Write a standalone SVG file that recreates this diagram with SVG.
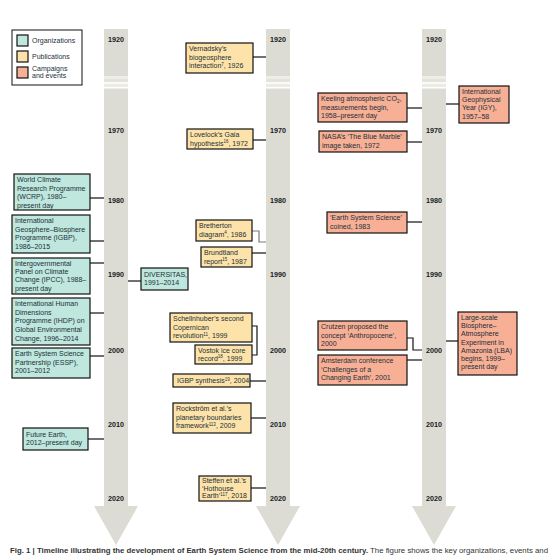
<svg xmlns="http://www.w3.org/2000/svg" width="559" height="555" viewBox="0 0 559 555">
<defs>
<style>
.bar{fill:#dcdcd4}
.org{fill:#bfe7dd;stroke:#111;stroke-width:1.2}
.pub{fill:#fde3a9;stroke:#111;stroke-width:1.2}
.cam{fill:#f7af95;stroke:#111;stroke-width:1.2}
.t{font-family:"Liberation Sans",Arial,sans-serif;font-size:7px;fill:#22303a}
.yr{font-family:"Liberation Sans",Arial,sans-serif;font-size:7.2px;font-weight:bold;fill:#1a1a1a;text-anchor:middle}
.c{fill:none;stroke:#111;stroke-width:1.2}
.cg{fill:none;stroke:#7a7a7a;stroke-width:1.2}
.cap{font-family:"Liberation Sans",Arial,sans-serif;font-size:7px;fill:#333}
.sup{font-size:4.5px}
</style>
</defs>
<rect width="559" height="555" fill="#fff"/>

<g id="timelines">
<g id="bar-left">
<polygon class="bar" points="104,29 128,29 128,506 138,506 116,545 94,506 104,506"/>
<rect x="104" y="76" width="24" height="3" fill="#eeeee9"/>
<rect x="104" y="79" width="24" height="3" fill="#e3e3dc"/>
<rect x="104" y="82" width="24" height="2.5" fill="#fafaf7"/>
<rect x="104" y="84.5" width="24" height="2.5" fill="#ececE6"/>
<rect x="104" y="87" width="24" height="1.5" fill="#fff"/>
</g>
<g id="bar-mid">
<polygon class="bar" points="266,29 290,29 290,506 300,506 278,545 256,506 266,506"/>
<rect x="266" y="76" width="24" height="3" fill="#eeeee9"/>
<rect x="266" y="79" width="24" height="3" fill="#e3e3dc"/>
<rect x="266" y="82" width="24" height="2.5" fill="#fafaf7"/>
<rect x="266" y="84.5" width="24" height="2.5" fill="#ececE6"/>
<rect x="266" y="87" width="24" height="1.5" fill="#fff"/>
</g>
<g id="bar-right">
<polygon class="bar" points="422,29 446,29 446,506 456,506 434,545 412,506 422,506"/>
<rect x="422" y="76" width="24" height="3" fill="#eeeee9"/>
<rect x="422" y="79" width="24" height="3" fill="#e3e3dc"/>
<rect x="422" y="82" width="24" height="2.5" fill="#fafaf7"/>
<rect x="422" y="84.5" width="24" height="2.5" fill="#ececE6"/>
<rect x="422" y="87" width="24" height="1.5" fill="#fff"/>
</g>
<g id="years">
<text class="yr" x="116" y="42">1920</text><text class="yr" x="278" y="42">1920</text><text class="yr" x="434" y="42">1920</text>
<text class="yr" x="116" y="133">1970</text><text class="yr" x="278" y="133">1970</text><text class="yr" x="434" y="133">1970</text>
<text class="yr" x="116" y="203">1980</text><text class="yr" x="278" y="203">1980</text><text class="yr" x="434" y="203">1980</text>
<text class="yr" x="116" y="277">1990</text><text class="yr" x="278" y="277">1990</text><text class="yr" x="434" y="277">1990</text>
<text class="yr" x="116" y="353">2000</text><text class="yr" x="278" y="353">2000</text><text class="yr" x="434" y="353">2000</text>
<text class="yr" x="116" y="427">2010</text><text class="yr" x="278" y="427">2010</text><text class="yr" x="434" y="427">2010</text>
<text class="yr" x="116" y="501">2020</text><text class="yr" x="278" y="501">2020</text><text class="yr" x="434" y="501">2020</text>
</g>
</g>

<g id="legend">
<rect x="12" y="30" width="70" height="55" fill="#fff" stroke="#111" stroke-width="1"/>
<rect x="17" y="35" width="11" height="11" class="org"/>
<rect x="17" y="51" width="11" height="11" class="pub"/>
<rect x="17" y="67" width="11" height="11" class="cam"/>
<text class="t" x="32" y="43">Organizations</text>
<text class="t" x="32" y="59">Publications</text>
<text class="t" x="32" y="71">Campaigns</text>
<text class="t" x="32" y="78">and events</text>
</g>

<g id="connectors">
<line class="c" x1="90" y1="198" x2="104" y2="198"/>
<line class="c" x1="90" y1="241" x2="104" y2="241"/>
<line class="c" x1="90" y1="263" x2="104" y2="263"/>
<line class="c" x1="128" y1="281" x2="141" y2="281"/>
<line class="c" x1="90" y1="313" x2="104" y2="313"/>
<line class="c" x1="90" y1="356" x2="104" y2="356"/>
<line class="c" x1="88" y1="439" x2="104" y2="439"/>
<line class="c" x1="253" y1="57" x2="266" y2="57"/>
<line class="c" x1="253" y1="140" x2="266" y2="140"/>
<polyline class="cg" points="252,231 259,231 259,242 266,242"/>
<line class="c" x1="252" y1="253" x2="266" y2="253"/>
<polyline class="c" points="252,326 257,326 257,355 252,355"/>
<line class="c" x1="250" y1="381" x2="266" y2="381"/>
<line class="c" x1="251" y1="418" x2="266" y2="418"/>
<line class="c" x1="251" y1="488" x2="266" y2="488"/>
<line class="c" x1="407" y1="108" x2="422" y2="108"/>
<line class="c" x1="446" y1="104" x2="459" y2="104"/>
<line class="c" x1="407" y1="142" x2="422" y2="142"/>
<line class="c" x1="407" y1="222" x2="422" y2="222"/>
<polyline class="c" points="407,338 413,338 413,350 422,350"/>
<line class="c" x1="407" y1="360" x2="422" y2="360"/>
<line class="c" x1="446" y1="341" x2="458" y2="341"/>
</g>

<g id="wcrp">
<rect class="org" x="14" y="174" width="76" height="36"/>
<text class="t" x="17" y="182"><tspan x="17">World Climate</tspan><tspan x="17" dy="8.5">Research Programme</tspan><tspan x="17" dy="8.5">(WCRP), 1980–</tspan><tspan x="17" dy="8.5">present day</tspan></text>
</g>
<g id="igbp">
<rect class="org" x="12" y="215" width="78" height="38"/>
<text class="t" x="15" y="223"><tspan x="15">International</tspan><tspan x="15" dy="8.6">Geosphere–Biosphere</tspan><tspan x="15" dy="8.6">Programme (IGBP),</tspan><tspan x="15" dy="8.6">1986–2015</tspan></text>
</g>
<g id="ipcc">
<rect class="org" x="12" y="258" width="78" height="36"/>
<text class="t" x="15" y="265.5"><tspan x="15">Intergovernmental</tspan><tspan x="15" dy="8.4">Panel on Climate</tspan><tspan x="15" dy="8.4">Change (IPCC), 1988–</tspan><tspan x="15" dy="8.4">present day</tspan></text>
</g>
<g id="diversitas">
<rect class="org" x="141" y="268" width="47" height="22"/>
<text class="t" x="144" y="276.5"><tspan x="144">DIVERSITAS,</tspan><tspan x="144" dy="8.5">1991–2014</tspan></text>
</g>
<g id="ihdp">
<rect class="org" x="12" y="298" width="78" height="47"/>
<text class="t" x="15" y="306"><tspan x="15">International Human</tspan><tspan x="15" dy="8.7">Dimensions</tspan><tspan x="15" dy="8.7">Programme (IHDP) on</tspan><tspan x="15" dy="8.7">Global Environmental</tspan><tspan x="15" dy="8.7">Change, 1996–2014</tspan></text>
</g>
<g id="essp">
<rect class="org" x="12" y="348" width="78" height="30"/>
<text class="t" x="15" y="356"><tspan x="15">Earth System Science</tspan><tspan x="15" dy="8.5">Partnership (ESSP),</tspan><tspan x="15" dy="8.5">2001–2012</tspan></text>
</g>
<g id="future-earth">
<rect class="org" x="23" y="428" width="65" height="22"/>
<text class="t" x="26" y="436.5"><tspan x="26">Future Earth,</tspan><tspan x="26" dy="8.5">2012–present day</tspan></text>
</g>

<g id="vernadsky">
<rect class="pub" x="186" y="43" width="67" height="30"/>
<text class="t" x="189" y="51"><tspan x="189">Vernadsky’s</tspan><tspan x="189" dy="8.5">biogeosphere</tspan><tspan x="189" dy="8.5">interaction</tspan><tspan class="sup" dy="-2.5">7</tspan><tspan dy="2.5">, 1926</tspan></text>
</g>
<g id="lovelock">
<rect class="pub" x="187" y="129" width="66" height="20"/>
<text class="t" x="190" y="137"><tspan x="190">Lovelock’s Gaia</tspan><tspan x="190" dy="8.5">hypothesis</tspan><tspan class="sup" dy="-2.5">16</tspan><tspan dy="2.5">, 1972</tspan></text>
</g>
<g id="bretherton">
<rect class="pub" x="196" y="220" width="56" height="21"/>
<text class="t" x="199" y="228"><tspan x="199">Bretherton</tspan><tspan x="199" dy="8.5">diagram</tspan><tspan class="sup" dy="-2.5">4</tspan><tspan dy="2.5">, 1986</tspan></text>
</g>
<g id="brundtland">
<rect class="pub" x="201" y="247" width="51" height="20"/>
<text class="t" x="204" y="255"><tspan x="204">Brundtland</tspan><tspan x="204" dy="8.5">report</tspan><tspan class="sup" dy="-2.5">15</tspan><tspan dy="2.5">, 1987</tspan></text>
</g>
<g id="schellnhuber">
<rect class="pub" x="170" y="313" width="82" height="29"/>
<text class="t" x="173" y="321"><tspan x="173">Schellnhuber’s second</tspan><tspan x="173" dy="8.5">Copernican</tspan><tspan x="173" dy="8.5">revolution</tspan><tspan class="sup" dy="-2.5">11</tspan><tspan dy="2.5">, 1999</tspan></text>
</g>
<g id="vostok">
<rect class="pub" x="195" y="345" width="57" height="19"/>
<text class="t" x="198" y="352.5"><tspan x="198">Vostok ice core</tspan><tspan x="198" dy="8.3">record</tspan><tspan class="sup" dy="-2.5">18</tspan><tspan dy="2.5">, 1999</tspan></text>
</g>
<g id="igbp-synthesis">
<rect class="pub" x="173" y="374" width="77" height="13"/>
<text class="t" x="177" y="383"><tspan>IGBP synthesis</tspan><tspan class="sup" dy="-2.5">19</tspan><tspan dy="2.5">, 2004</tspan></text>
</g>
<g id="rockstrom">
<rect class="pub" x="173" y="403" width="78" height="30"/>
<text class="t" x="176" y="411"><tspan x="176">Rockström et al.’s</tspan><tspan x="176" dy="8.5">planetary boundaries</tspan><tspan x="176" dy="8.5">framework</tspan><tspan class="sup" dy="-2.5">113</tspan><tspan dy="2.5">, 2009</tspan></text>
</g>
<g id="steffen">
<rect class="pub" x="199" y="476" width="52" height="25"/>
<text class="t" x="202" y="483"><tspan x="202">Steffen et al.’s</tspan><tspan x="202" dy="7.6">‘Hothouse</tspan><tspan x="202" dy="7.6">Earth’</tspan><tspan class="sup" dy="-2.5">117</tspan><tspan dy="2.5">, 2018</tspan></text>
</g>

<g id="keeling">
<rect class="cam" x="318" y="93" width="89" height="29"/>
<text class="t" x="321" y="101"><tspan x="321">Keeling atmospheric CO</tspan><tspan class="sup" dy="1.5">2</tspan><tspan dy="-1.5">,</tspan><tspan x="321" dy="8.5">measurements begin,</tspan><tspan x="321" dy="8.5">1958–present day</tspan></text>
</g>
<g id="igy">
<rect class="cam" x="459" y="86" width="50" height="37"/>
<text class="t" x="462" y="94"><tspan x="462">International</tspan><tspan x="462" dy="8.2">Geophysical</tspan><tspan x="462" dy="8.2">Year (IGY),</tspan><tspan x="462" dy="8.2">1957–58</tspan></text>
</g>
<g id="nasa">
<rect class="cam" x="319" y="131" width="88" height="21"/>
<text class="t" x="322" y="139"><tspan x="322">NASA’s ‘The Blue Marble’</tspan><tspan x="322" dy="8.5">image taken, 1972</tspan></text>
</g>
<g id="ess-coined">
<rect class="cam" x="327" y="212" width="80" height="21"/>
<text class="t" x="330" y="220"><tspan x="330">‘Earth System Science’</tspan><tspan x="330" dy="8.5">coined, 1983</tspan></text>
</g>
<g id="crutzen">
<rect class="cam" x="318" y="321" width="89" height="29"/>
<text class="t" x="321" y="329"><tspan x="321">Crutzen proposed the</tspan><tspan x="321" dy="8.5">concept ‘Anthropocene’,</tspan><tspan x="321" dy="8.5">2000</tspan></text>
</g>
<g id="amsterdam">
<rect class="cam" x="318" y="355" width="89" height="30"/>
<text class="t" x="321" y="363"><tspan x="321">Amsterdam conference</tspan><tspan x="321" dy="8.5">‘Challenges of a</tspan><tspan x="321" dy="8.5">Changing Earth’, 2001</tspan></text>
</g>
<g id="lba">
<rect class="cam" x="458" y="312" width="59" height="63"/>
<text class="t" x="461" y="320"><tspan x="461">Large-scale</tspan><tspan x="461" dy="8.2">Biosphere–</tspan><tspan x="461" dy="8.2">Atmosphere</tspan><tspan x="461" dy="8.2">Experiment in</tspan><tspan x="461" dy="8.2">Amazonia (LBA)</tspan><tspan x="461" dy="8.2">begins, 1999–</tspan><tspan x="461" dy="8.2">present day</tspan></text>
</g>

<text class="cap" x="10" y="553" textLength="538" lengthAdjust="spacingAndGlyphs"><tspan font-weight="bold">Fig. 1 | Timeline illustrating the development of Earth System Science from the mid-20th century.</tspan> The figure shows the key organizations, events and</text>
</svg>
